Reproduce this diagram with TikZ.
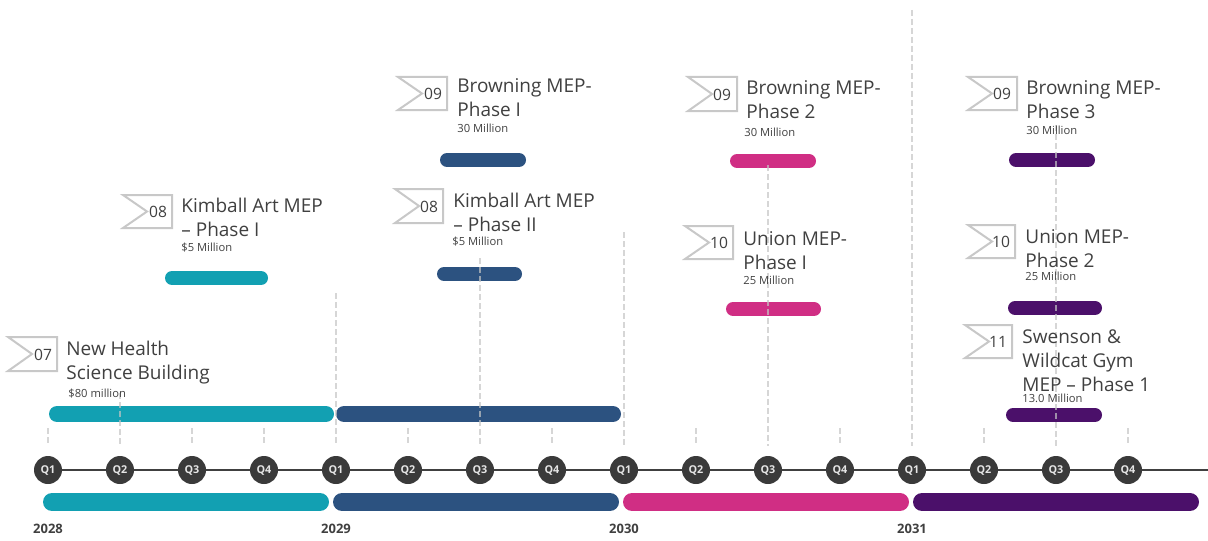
\documentclass[tikz,border=0pt]{standalone}
\usepackage{fontspec}
\setmainfont{Open Sans}
\usepackage{xcolor}

\definecolor{tealbar}{HTML}{12A0B2}
\definecolor{navybar}{HTML}{2C5280}
\definecolor{pinkbar}{HTML}{D02E84}
\definecolor{plumbar}{HTML}{4B106A}
\definecolor{ink}{HTML}{404040}
\definecolor{flaggray}{HTML}{C8C8C8}
\definecolor{guidegray}{HTML}{C4C4C4}
\definecolor{qdark}{HTML}{3A3A3A}

\tikzset{
  title/.style={anchor=base west, align=left, inner sep=0pt, text=ink,
    font=\fontsize{9.5}{12}\selectfont},
  amount/.style={anchor=base west, inner sep=0pt, text=ink,
    font=\fontsize{5.6}{6}\selectfont},
  flagline/.style={draw=flaggray, line width=1pt, fill=white, line join=miter},
  flagnum/.style={inner sep=0pt, text=ink, font=\fontsize{7.8}{9}\selectfont},
  bar/.style={line width=7pt, line cap=round},
  yearbar/.style={line width=9pt, line cap=round},
  guide/.style={draw=guidegray, draw opacity=0.7, line width=0.75pt,
    dash pattern=on 3pt off 1.5pt},
  quarter/.style={circle, fill=qdark, inner sep=0pt, minimum width=13pt,
    minimum height=14pt, text=white!90!black,
    font=\bfseries\fontsize{5.4}{6}\selectfont},
  yearlabel/.style={inner sep=0pt, text=ink, font=\bfseries\fontsize{6.5}{7}\selectfont}
}

\begin{document}
\begin{tikzpicture}[x=0.5pt, y=-0.5pt]
  \useasboundingbox (0,0) rectangle (1208,540);

  % axis
  \coordinate (axisL) at (35,470);
  \coordinate (axisR) at (1208,470);
  \draw[ink, line width=1pt] (axisL) -- (axisR);

  % year bars
  \draw[yearbar, tealbar] (52,502) -- (320,502);
  \draw[yearbar, navybar] (342,502) -- (610,502);
  \draw[yearbar, pinkbar] (632,502) -- (900,502);
  \draw[yearbar, plumbar] (922,502) -- (1190,502);

  \node (y28) [yearlabel] at (48,529) {2028};
  \node (y29) [yearlabel] at (336,529) {2029};
  \node (y30) [yearlabel] at (624,529) {2030};
  \node (y31) [yearlabel] at (912,529) {2031};

  % project bars
  \draw[bar, line width=8pt, tealbar] (57,414) -- (326,414);
  \draw[bar, line width=8pt, navybar] (344,414) -- (613,414);
  \draw[bar, tealbar] (172,278) -- (261,278);
  \draw[bar, navybar] (444,274) -- (515,274);
  \draw[bar, navybar] (447,160) -- (519,160);
  \draw[bar, pinkbar] (737,161) -- (809,161);
  \draw[bar, pinkbar] (733,309) -- (814,309);
  \draw[bar, plumbar] (1016,160) -- (1088,160);
  \draw[bar, plumbar] (1015,308) -- (1095,308);
  \draw[bar, plumbar] (1013,415) -- (1095,415);

  % dashed guides down to the quarters
  \foreach \x/\top in {48/428,120/393,192/428,264/428,336/293,408/428,480/258,
      552/428,624/232,696/428,768/165,840/428,912/10,984/428,1056/125,1128/428}
    \draw[guide] (\x,\top) -- (\x,446);

  % quarters
  \foreach \i [evaluate=\i as \x using 48+72*\i,
      evaluate=\i as \q using {int(mod(\i,4)+1)}] in {0,...,15}
    \node (q\i) [quarter] at (\x,470) {Q\q};

  % flags
  \draw[flagline] (8,337) -- (57,337) -- (57,371) -- (8,371) -- (32,354) -- cycle;
  \node (f07) [flagnum] at (43,355) {07};
  \draw[flagline] (123,195) -- (172,195) -- (172,228) -- (123,228) -- (147,211.5) -- cycle;
  \node (f08a) [flagnum] at (158,212) {08};
  \draw[flagline] (398,77) -- (447,77) -- (447,110) -- (398,110) -- (422,93.5) -- cycle;
  \node (f09a) [flagnum] at (433,94) {09};
  \draw[flagline] (395,189) -- (443,189) -- (443,223) -- (395,223) -- (419,206) -- cycle;
  \node (f08b) [flagnum] at (429,207) {08};
  \draw[flagline] (688,77) -- (737,77) -- (737,111) -- (688,111) -- (712,94) -- cycle;
  \node (f09b) [flagnum] at (722,95) {09};
  \draw[flagline] (685,226) -- (733,226) -- (733,259) -- (685,259) -- (709,242.5) -- cycle;
  \node (f10a) [flagnum] at (719,243) {10};
  \draw[flagline] (968,77) -- (1017,77) -- (1017,110) -- (968,110) -- (992,93.5) -- cycle;
  \node (f09c) [flagnum] at (1002,94) {09};
  \draw[flagline] (968,225) -- (1015,225) -- (1015,258) -- (968,258) -- (992,241.5) -- cycle;
  \node (f10b) [flagnum] at (1001,242) {10};
  \draw[flagline] (965,325) -- (1012,325) -- (1012,358) -- (965,358) -- (989,341.5) -- cycle;
  \node (f11) [flagnum] at (998,342) {11};

  % project titles (placed at the baseline of their last line)
  \node (t07) [title] at (66,379) {New Health\\Science Building};
  \node (t08a) [title] at (181,236) {Kimball Art MEP\\– Phase I};
  \node (t09a) [title] at (457,117) {Browning MEP-\\Phase I};
  \node (t08b) [title] at (453,231) {Kimball Art MEP\\– Phase II};
  \node (t09b) [title] at (746,119) {Browning MEP-\\Phase 2};
  \node (t10a) [title] at (743,269) {Union MEP-\\Phase I};
  \node (t09c) [title] at (1026,119) {Browning MEP-\\Phase 3};
  \node (t10b) [title] at (1025,267) {Union MEP-\\Phase 2};
  \node (t11) [title] at (1022,391) {Swenson \&\\Wildcat Gym\\MEP – Phase 1};

  % budgets
  \node (m07) [amount] at (68,397) {\$80 million};
  \node (m08a) [amount] at (181,251) {\$5 Million};
  \node (m09a) [amount] at (457,133) {30 Million};
  \node (m08b) [amount] at (452,245) {\$5 Million};
  \node (m09b) [amount] at (744,136) {30 Million};
  \node (m10a) [amount] at (743,284) {25 Million};
  \node (m09c) [amount] at (1026,134) {30 Million};
  \node (m10b) [amount] at (1025,280) {25 Million};
  \node (m11) [amount] at (1022,402) {13.0 Million};
\end{tikzpicture}
\end{document}
